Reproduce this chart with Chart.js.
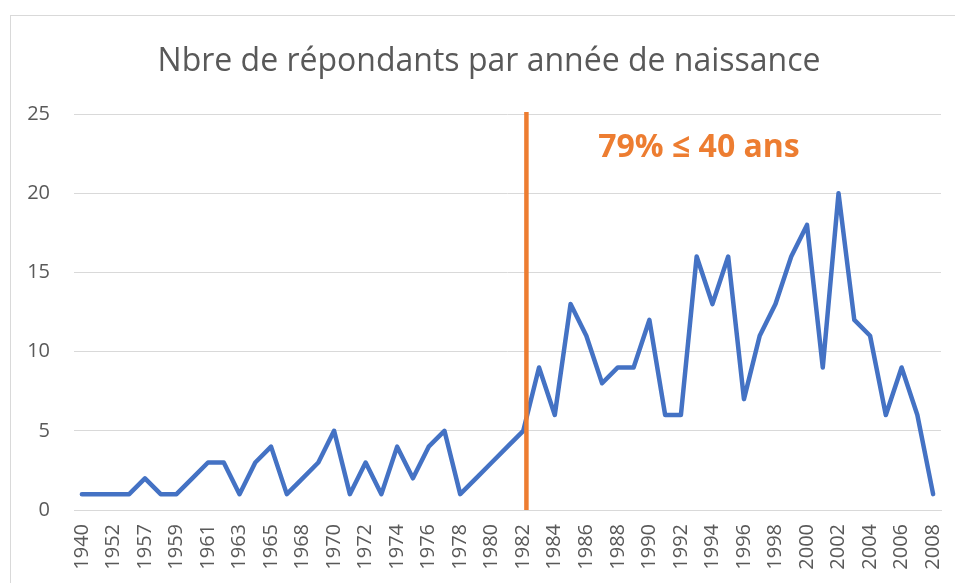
<!DOCTYPE html>
<html>
<head>
<meta charset="utf-8">
<script src="https://cdn.jsdelivr.net/npm/chart.js@4/dist/chart.umd.min.js"></script>
<style>
  html, body { margin: 0; padding: 0; background: #ffffff; }
  #wrap { position: relative; width: 955px; height: 583px; overflow: hidden; }
  #frame { position: absolute; left: 10px; top: 15px; width: 1000px; height: 700px; border: 1px solid #D9D9D9; box-sizing: border-box; }
  #c { position: absolute; left: 0; top: 0; }
</style>
</head>
<body>
<div id="wrap">
  <div id="frame"></div>
  <canvas id="c" width="955" height="583"></canvas>
</div>
<script>
// ---- data ----
const chartTitle = "Nbre de répondants par année de naissance";
const annotationText = "79% ≤ 40 ans";
const years = [
  "1940","1950","1952","1955","1957","1958","1959","1960","1961","1962",
  "1963","1964","1965","1967","1968","1969","1970","1971","1972","1973",
  "1974","1975","1976","1977","1978","1979","1980","1981","1982","1983",
  "1984","1985","1986","1987","1988","1989","1990","1991","1992","1993",
  "1994","1995","1996","1997","1998","1999","2000","2001","2002","2003",
  "2004","2005","2006","2007","2008"
];
const respondents = [
  1,1,1,1,2,1,1,2,3,3,
  1,3,4,1,2,3,5,1,3,1,
  4,2,4,5,1,2,3,4,5,9,
  6,13,11,8,9,9,12,6,6,16,
  13,16,7,11,13,16,18,9,20,12,
  11,6,9,6,1
];
const yTicks = [0, 5, 10, 15, 20, 25];
const markerYear = "1982"; // vertical marker placed just after this year

const FONT = "'Open Sans', 'Liberation Sans', sans-serif";
const TEXT_GREY = "#595959";
const ORANGE = "#ED7D31";

const overlayPlugin = {
  id: 'overlay',
  afterDatasetsDraw(chart) {
    const ctx = chart.ctx;
    const xs = chart.scales.x, ys = chart.scales.y;
    const idx = years.indexOf(markerYear);
    const mx = xs.getPixelForValue(idx + 0.2);
    ctx.save();
    ctx.strokeStyle = ORANGE;
    ctx.lineWidth = 4.5;
    ctx.beginPath();
    ctx.moveTo(mx, ys.getPixelForValue(25) - 2);
    ctx.lineTo(mx, ys.getPixelForValue(0));
    ctx.stroke();
    ctx.fillStyle = ORANGE;
    ctx.font = "bold 32px " + FONT;
    ctx.textAlign = "center";
    ctx.textBaseline = "alphabetic";
    ctx.fillText(annotationText, 699, 157);
    ctx.fillStyle = TEXT_GREY;
    ctx.font = "32px " + FONT;
    ctx.fillText(chartTitle, 489, 71);
    ctx.restore();
  }
};

new Chart(document.getElementById('c'), {
  type: 'line',
  data: {
    labels: years,
    datasets: [{
      data: respondents,
      borderColor: '#4472C4',
      backgroundColor: '#4472C4',
      borderWidth: 4.5,
      pointRadius: 0,
      tension: 0,
      borderJoinStyle: 'round',
      borderCapStyle: 'round',
      fill: false
    }]
  },
  options: {
    responsive: false,
    animation: false,
    devicePixelRatio: 1,
    layout: { padding: { left: 0, right: 14, top: 114, bottom: 0 } },
    plugins: { legend: { display: false }, title: { display: false }, tooltip: { enabled: false } },
    scales: {
      x: {
        type: 'category',
        offset: true,
        grid: { display: false, drawTicks: false },
        border: { display: true, color: '#D9D9D9', width: 1 },
        ticks: {
          autoSkip: false,
          maxRotation: 90,
          minRotation: 90,
          padding: 14,
          color: TEXT_GREY,
          font: { family: FONT, size: 20 },
          callback: function(v, i) { return i % 2 === 0 ? years[i] : ''; }
        },
        afterFit(scale) { scale.height = 73; scale.paddingLeft = 0; scale.paddingRight = 0; }
      },
      y: {
        min: 0, max: 25,
        afterBuildTicks(scale) { scale.ticks = yTicks.map(v => ({ value: v })); },
        grid: { color: '#D9D9D9', lineWidth: 1, drawTicks: false },
        border: { display: false },
        ticks: {
          padding: 24,
          color: TEXT_GREY,
          font: { family: FONT, size: 20 }
        },
        afterFit(scale) { scale.width = 74; scale.paddingTop = 0; scale.paddingBottom = 0; }
      }
    }
  },
  plugins: [overlayPlugin]
});
</script>
</body>
</html>
